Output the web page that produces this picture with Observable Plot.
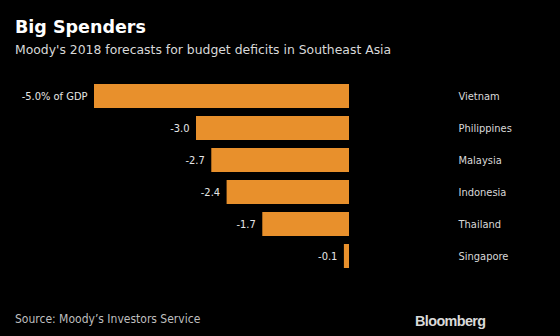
<!DOCTYPE html>
<html>
<head>
<meta charset="utf-8">
<script src="https://cdn.jsdelivr.net/npm/d3@7"></script>
<script src="https://cdn.jsdelivr.net/npm/@observablehq/plot@0.6"></script>
<style>
  html, body { margin: 0; padding: 0; background: #000; }
  body { width: 560px; height: 336px; position: relative; overflow: hidden; font-family: "DejaVu Sans", sans-serif; }
  #title { position: absolute; left: 15px; top: 16px; color: #fff; font-weight: bold; font-size: 17.5px; line-height: 22px; }
  #subtitle { position: absolute; left: 15px; top: 42px; color: #d9d9d9; font-size: 12.4px; line-height: 16px; }
  #chart { position: absolute; left: 0; top: 70px; }
  #source { position: absolute; left: 15px; top: 312px; color: #bfbfbf; font-size: 12px; line-height: 14px; font-family: "DejaVu Sans Condensed", "DejaVu Sans", sans-serif; }
  #logo { position: absolute; left: 415px; top: 313.5px; color: #d9d9d9; font-weight: bold; font-size: 14.4px; line-height: 15px; font-family: "Liberation Sans", Arial, sans-serif; letter-spacing: -0.6px; }
</style>
</head>
<body>
<div id="title">Big Spenders</div>
<div id="subtitle">Moody's 2018 forecasts for budget deficits in Southeast Asia</div>
<div id="chart"></div>
<div id="source">Source: Moody’s Investors Service</div>
<div id="logo">Bloomberg</div>
<script>
const countries = ["Vietnam", "Philippines", "Malaysia", "Indonesia", "Thailand", "Singapore"];
const deficits = [-5.0, -3.0, -2.7, -2.4, -1.7, -0.1];
const valueLabels = ["-5.0% of GDP", "-3.0", "-2.7", "-2.4", "-1.7", "-0.1"];

const data = countries.map((c, i) => ({country: c, value: deficits[i], label: valueLabels[i]}));

const chart = Plot.plot({
  width: 560,
  height: 210,
  marginLeft: 94,
  marginRight: 211,
  marginTop: 10,
  marginBottom: 8,
  style: {background: "transparent", fontFamily: "'DejaVu Sans Condensed', 'DejaVu Sans', sans-serif"},
  x: {domain: [-5, 0], axis: null},
  y: {domain: countries, axis: null, paddingInner: 0.25, paddingOuter: 0.125},
  marks: [
    Plot.barX(data, {x1: 0, x2: "value", y: "country", fill: "#e8902c"}),
    Plot.text(data, {x: "value", y: "country", text: "label", textAnchor: "end", dx: -7, fill: "#e6e6e6", fontSize: 11}),
    Plot.text(data, {x: 0, y: "country", text: "country", textAnchor: "start", dx: 109, fill: "#d9d9d9", fontSize: 11})
  ]
});
document.getElementById("chart").appendChild(chart);
</script>
</body>
</html>
